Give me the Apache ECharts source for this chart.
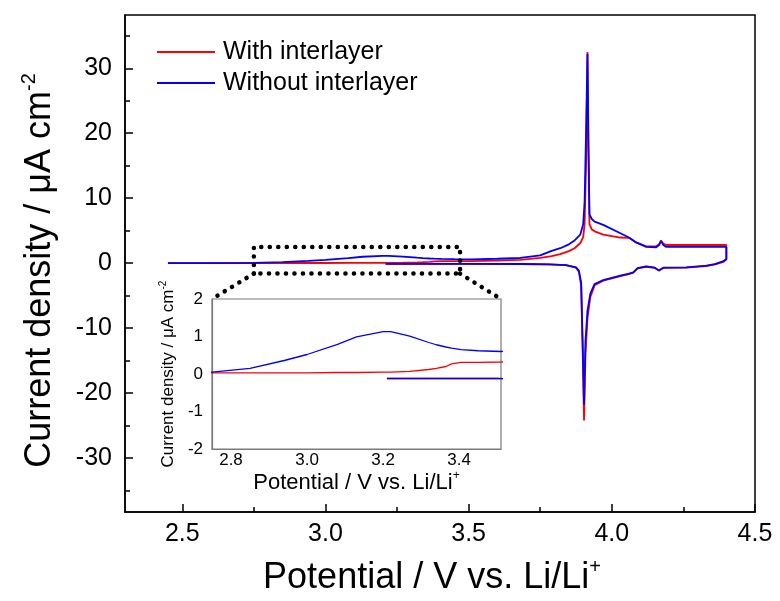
<!DOCTYPE html>
<html>
<head>
<meta charset="utf-8">
<script src="https://cdn.jsdelivr.net/npm/echarts@6/dist/echarts.min.js"></script>
<style>html,body{margin:0;padding:0;background:#fff}#c{width:780px;height:601px}</style>
</head>
<body>
<div id="c"></div>
<script>
// ---------------- data ----------------
const seriesNames = ['With interlayer', 'Without interlayer'];
// anodic sweep (2.45 V -> 4.4 V)
const anodicV = [2.45, 2.6, 2.75, 2.85, 2.94, 3.0, 3.08, 3.13, 3.2, 3.22, 3.27, 3.32, 3.34, 3.365, 3.38, 3.405, 3.45, 3.51, 3.6, 3.68, 3.75, 3.79, 3.82, 3.85, 3.87, 3.89, 3.9, 3.905, 3.91, 3.915, 3.918, 3.922, 3.93, 3.94, 3.97, 4.03, 4.06, 4.085, 4.12, 4.155, 4.165, 4.172, 4.18, 4.19, 4.3, 4.4];
const anodicRed = [0, 0.02, 0.03, 0.03, 0.03, 0.03, 0.04, 0.04, 0.05, 0.05, 0.07, 0.12, 0.15, 0.2, 0.27, 0.31, 0.31, 0.32, 0.4, 0.5, 0.8, 1.1, 1.4, 1.85, 2.3, 3.1, 4.0, 6, 15, 32.5, 18, 6, 5.2, 4.9, 4.4, 3.95, 3.9, 3.2, 2.6, 2.6, 2.9, 3.5, 3.0, 2.8, 2.8, 2.8];
const anodicBlue = [0, 0.02, 0.05, 0.15, 0.36, 0.52, 0.79, 0.99, 1.13, 1.13, 1.01, 0.84, 0.78, 0.72, 0.69, 0.65, 0.62, 0.6, 0.68, 0.8, 1.2, 1.9, 2.3, 2.9, 3.5, 4.4, 6, 9.5, 20, 32.2, 20, 7.5, 6.8, 6.4, 5.9, 4.6, 3.95, 3.2, 2.5, 2.45, 2.8, 3.4, 2.8, 2.5, 2.5, 2.5];
// cathodic sweep (4.4 V -> 3.21 V)
const cathodicV = [4.4, 4.39, 4.36, 4.33, 4.26, 4.18, 4.164, 4.15, 4.12, 4.09, 4.075, 4.06, 4.03, 3.97, 3.94, 3.925, 3.915, 3.908, 3.903, 3.898, 3.893, 3.885, 3.875, 3.84, 3.78, 3.68, 3.5, 3.3, 3.21];
const cathodicRed = [0.6, 0.2, -0.2, -0.45, -0.68, -0.72, -1.1, -0.72, -0.55, -0.8, -1.45, -1.7, -2.0, -2.7, -3.4, -5.2, -8.5, -14, -24.2, -13, -3.5, -1.3, -0.7, -0.3, -0.2, -0.13, -0.12, -0.12, -0.12];
const cathodicBlue = [0.65, 0.3, -0.15, -0.38, -0.64, -0.7, -1.15, -0.7, -0.5, -0.75, -1.4, -1.6, -1.9, -2.6, -3.2, -4.7, -7.3, -12, -21.8, -12, -3, -1.15, -0.64, -0.3, -0.2, -0.13, -0.12, -0.12, -0.12];
// zoomed window marked on the main plot
const zoomBoxV = [2.75, 3.47];
const zoomBoxI = [-1.6, 2.5];
// axis ticks
const mainXTicks = [2.5, 3.0, 3.5, 4.0, 4.5];
const mainXMinor = [2.75, 3.25, 3.75, 4.25];
const mainYTicks = [-30, -20, -10, 0, 10, 20, 30];
const mainYMinor = [-35, -25, -15, -5, 5, 15, 25, 35];
const insetXTicks = [2.8, 3.0, 3.2, 3.4];
const insetYTicks = [-2, -1, 0, 1, 2];

// ---------------- layout ----------------
const FONT = 'Liberation Sans, Arial, sans-serif';
const MAIN = {left: 125, top: 15, width: 630, height: 497};
const INSET = {left: 212, top: 299, width: 289, height: 150};
const RED = '#ff0000', BLUE = '#0000ff';

function pairs(xs, ys) { return xs.map((x, i) => [x, ys[i]]); }
const redData = pairs(anodicV, anodicRed).concat(pairs(cathodicV, cathodicRed));
const blueData = pairs(anodicV, anodicBlue).concat(pairs(cathodicV, cathodicBlue));
const boxData = [[zoomBoxV[0], zoomBoxI[0]], [zoomBoxV[0], zoomBoxI[1]], [zoomBoxV[1], zoomBoxI[1]], [zoomBoxV[1], zoomBoxI[0]], [zoomBoxV[0], zoomBoxI[0]]];

const fmt1 = v => v.toFixed(1);
const DOT = {color: '#000', width: 4.5, type: [0.1, 8.4], cap: 'round'};

const chart = echarts.init(document.getElementById('c'), null, {renderer: 'canvas'});
const option = {
  backgroundColor: '#fff',
  animation: false,
  textStyle: {fontFamily: FONT},
  grid: [
    Object.assign({show: true, borderColor: '#000', borderWidth: 1.5, backgroundColor: 'transparent'}, MAIN),
    Object.assign({show: true, borderColor: '#7a7a7a', borderWidth: 1.2, backgroundColor: '#fff'}, INSET)
  ],
  legend: {
    left: 157, top: 38, orient: 'vertical', padding: 0, itemGap: 3,
    itemWidth: 58, itemHeight: 2,
    data: [{name: seriesNames[0], icon: 'rect'}, {name: seriesNames[1], icon: 'rect'}],
    textStyle: {fontSize: 25, lineHeight: 28, color: '#000', fontFamily: FONT, padding: [0, 0, 0, 3]}
  },
  xAxis: [
    {
      gridIndex: 0, type: 'value', min: 2.3, max: 4.5,
      axisLine: {onZero: false, lineStyle: {color: '#000', width: 1.5}},
      axisTick: {inside: true, length: 8, customValues: mainXTicks, lineStyle: {color: '#000', width: 1.5}},
      axisLabel: {customValues: mainXTicks, formatter: fmt1, fontSize: 25, color: '#000', margin: 10, fontFamily: FONT},
      splitLine: {show: false},
      name: '{t|Potential / V vs. Li/Li}{s|+}', nameLocation: 'middle', nameGap: 45,
      nameTextStyle: {padding: [0, 16, 0, 0], rich: {
        t: {fontSize: 36, lineHeight: 42, color: '#000', fontFamily: FONT},
        s: {fontSize: 20, lineHeight: 20, verticalAlign: 'top', color: '#000', fontFamily: FONT}
      }}
    },
    {
      gridIndex: 0, type: 'value', min: 2.3, max: 4.5, position: 'bottom',
      axisLine: {show: false, onZero: false}, axisLabel: {show: false}, splitLine: {show: false},
      axisTick: {inside: true, length: 5, customValues: mainXMinor, lineStyle: {color: '#000', width: 1.5}}
    },
    {
      gridIndex: 1, type: 'value', min: 2.75, max: 3.51,
      axisLine: {onZero: false, lineStyle: {color: '#7a7a7a', width: 1.2}},
      axisTick: {show: false},
      axisLabel: {customValues: insetXTicks, formatter: fmt1, fontSize: 17, color: '#000', margin: 3, fontFamily: FONT},
      splitLine: {show: false},
      name: '{t|Potential / V vs. Li/Li}{s|+}', nameLocation: 'middle', nameGap: 21,
      nameTextStyle: {rich: {
        t: {fontSize: 22, lineHeight: 25, color: '#000', fontFamily: FONT},
        s: {fontSize: 12, lineHeight: 12, verticalAlign: 'top', color: '#000', fontFamily: FONT}
      }}
    }
  ],
  yAxis: [
    {
      gridIndex: 0, type: 'value', min: -38.3, max: 38.2,
      axisLine: {onZero: false, lineStyle: {color: '#000', width: 1.5}},
      axisTick: {inside: true, length: 8, customValues: mainYTicks, lineStyle: {color: '#000', width: 1.5}},
      axisLabel: {customValues: mainYTicks, fontSize: 25, color: '#000', margin: 13, fontFamily: FONT},
      splitLine: {show: false},
      name: '{t|Current density / μA cm}{s|-2}', nameLocation: 'middle', nameGap: 64,
      nameTextStyle: {padding: [0, 14, 0, 0], rich: {
        t: {fontSize: 36, lineHeight: 42, color: '#000', fontFamily: FONT},
        s: {fontSize: 20, lineHeight: 20, verticalAlign: 'top', color: '#000', fontFamily: FONT}
      }}
    },
    {
      gridIndex: 0, type: 'value', min: -38.3, max: 38.2, position: 'left',
      axisLine: {show: false, onZero: false}, axisLabel: {show: false}, splitLine: {show: false},
      axisTick: {inside: true, length: 5, customValues: mainYMinor, lineStyle: {color: '#000', width: 1.5}}
    },
    {
      gridIndex: 1, type: 'value', min: -2, max: 2, interval: 1,
      axisLine: {onZero: false, lineStyle: {color: '#7a7a7a', width: 1.2}},
      axisTick: {show: false},
      axisLabel: {customValues: insetYTicks, fontSize: 17, color: '#000', margin: 9, fontFamily: FONT},
      splitLine: {show: false},
      name: '{t|Current density / μA cm}{s|-2}', nameLocation: 'middle', nameGap: 34,
      nameTextStyle: {rich: {
        t: {fontSize: 17, lineHeight: 20, color: '#000', fontFamily: FONT},
        s: {fontSize: 10, lineHeight: 10, verticalAlign: 'top', color: '#000', fontFamily: FONT}
      }}
    }
  ],
  series: [
    {name: seriesNames[0], type: 'line', xAxisIndex: 0, yAxisIndex: 0, data: redData, symbol: 'none', lineStyle: {color: RED, width: 1.8}, itemStyle: {color: RED}, clip: true, z: 3},
    {name: seriesNames[1], type: 'line', xAxisIndex: 0, yAxisIndex: 0, data: blueData, symbol: 'none', lineStyle: {color: BLUE, width: 1.8}, itemStyle: {color: BLUE}, clip: true, z: 4},
    {name: 'zoomBox', type: 'line', xAxisIndex: 0, yAxisIndex: 0, data: boxData, symbol: 'none', lineStyle: DOT, silent: true, z: 5},
    {name: seriesNames[0], type: 'line', xAxisIndex: 2, yAxisIndex: 2, data: redData, symbol: 'none', lineStyle: {color: RED, width: 1.3}, itemStyle: {color: RED}, clip: true, z: 6},
    {name: seriesNames[1], type: 'line', xAxisIndex: 2, yAxisIndex: 2, data: blueData, symbol: 'none', lineStyle: {color: BLUE, width: 1.3}, itemStyle: {color: BLUE}, clip: true, z: 7}
  ]
};
chart.setOption(option);

// dotted connectors from the zoom box to the inset corners
const bl = chart.convertToPixel({xAxisIndex: 0, yAxisIndex: 0}, [zoomBoxV[0], zoomBoxI[0]]);
const br = chart.convertToPixel({xAxisIndex: 0, yAxisIndex: 0}, [zoomBoxV[1], zoomBoxI[0]]);
const dotStyle = {stroke: '#000', lineWidth: 4.5, lineDash: [0.1, 8.4], lineCap: 'round', fill: null};
chart.setOption({
  graphic: [
    {type: 'polyline', shape: {points: [bl, [INSET.left, INSET.top]]}, style: dotStyle, z: 10, silent: true},
    {type: 'polyline', shape: {points: [br, [INSET.left + INSET.width, INSET.top]]}, style: dotStyle, z: 10, silent: true}
  ]
});
</script>
</body>
</html>
